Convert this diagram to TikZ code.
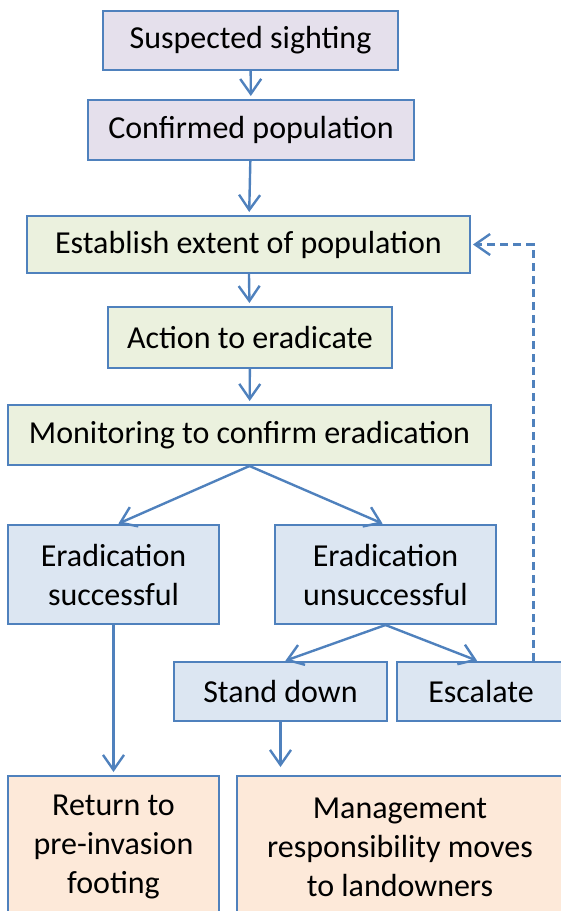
\documentclass[tikz,border=0pt]{standalone}
\usepackage{fontspec}
\setmainfont{Carlito}
\usetikzlibrary{arrows.meta}
\definecolor{edge}{HTML}{4F81BD}
\definecolor{lav}{HTML}{E5E0EC}
\definecolor{grn}{HTML}{EBF1DE}
\definecolor{blu}{HTML}{DCE6F2}
\definecolor{pch}{HTML}{FDE9D9}
\tikzset{
  box/.style={draw=edge, line width=2pt, inner sep=0pt, align=center,
    font=\fontsize{32}{39}\selectfont},
  arr/.style={draw=edge, line width=2.4pt, -{Straight Barb[length=15pt,width=21pt,line width=2.4pt]}},
}
\begin{document}
\begin{tikzpicture}[x=1pt,y=-1pt]
\useasboundingbox (0,0) rectangle (561,911);
\clip (0,0) rectangle (561,911);
\node[box, fill=lav, minimum width=295pt, minimum height=59pt] (sight) at (250.5,40.5) {Suspected sighting};
\node[box, fill=lav, minimum width=326pt, minimum height=60pt] (conf) at (251,130) {Confirmed population};
\node[box, fill=grn, minimum width=443pt, minimum height=57pt] (ext) at (248.5,244.5) {Establish extent of population};
\node[box, fill=grn, minimum width=284pt, minimum height=61pt] (act) at (250,337.5) {Action to eradicate};
\node[box, fill=grn, minimum width=483pt, minimum height=60pt] (mon) at (249.5,435) {Monitoring to confirm eradication};
\node[box, fill=blu, minimum width=211pt, minimum height=99pt] (succ) at (113.5,574.5) {Eradication\\successful};
\node[box, fill=blu, minimum width=221pt, minimum height=99pt] (unsucc) at (385.5,574.5) {Eradication\\unsuccessful};
\node[box, fill=blu, minimum width=213pt, minimum height=59pt] (stand) at (280.5,691.5) {Stand down};
\node[box, fill=blu, minimum width=168pt, minimum height=59pt] (esc) at (481,691.5) {Escalate};
\node[box, fill=pch, minimum width=211pt, minimum height=142pt] (ret) at (113.5,847) {Return to\\pre-invasion\\footing};
\node[box, fill=pch, minimum width=326pt, minimum height=142pt] (mgmt) at (400,847) {Management\\responsibility moves\\to landowners};
\coordinate (corner) at (533.5,244.5);
\draw[arr, shorten >=3pt] (sight) -- (conf);
\draw[arr, shorten >=3pt] (conf) -- (ext);
\draw[arr, shorten >=3pt] (ext) -- (act);
\draw[arr, shorten >=3pt] (act) -- (mon);
\draw[arr, shorten >=1pt] (mon.south) -- ([xshift=4pt]succ.north);
\draw[arr, shorten >=1pt] (mon.south) -- ([xshift=-2pt]unsucc.north);
\draw[arr, shorten >=3pt] (succ.south) -- (succ.south |- ret.north);
\draw[arr, shorten >=1pt] (unsucc.south) -- ([xshift=4pt]stand.north);
\draw[arr, shorten >=1pt] (unsucc.south) -- ([xshift=-3pt]esc.north);
\draw[arr, shorten >=8pt] (stand.south) -- (stand.south |- mgmt.north);
\draw[arr, dash pattern=on 8pt off 5pt, shorten >=2pt] (esc.north -| corner) -- (corner) -- (ext.east);
\end{tikzpicture}
\end{document}
